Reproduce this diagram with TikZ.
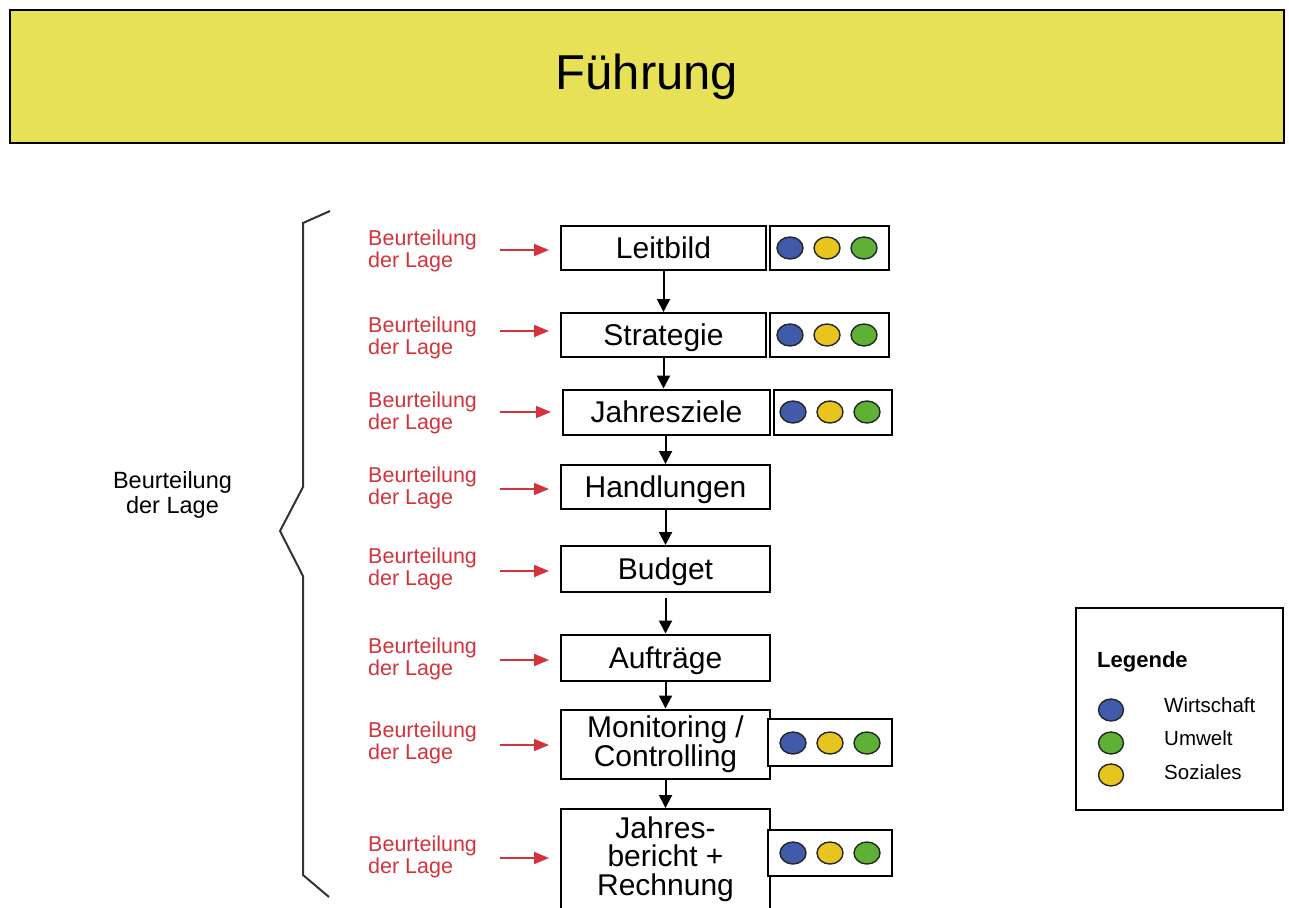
\documentclass[tikz,border=0pt]{standalone}
\usepackage{fontspec}
\setmainfont{Liberation Sans}
\usetikzlibrary{arrows.meta,shapes.geometric}

\definecolor{titleyellow}{HTML}{E6E156}
\definecolor{wblue}{HTML}{3F5BA9}
\definecolor{syellow}{HTML}{E8C41E}
\definecolor{ugreen}{HTML}{5DB135}
\definecolor{lagered}{HTML}{D4333B}

\tikzset{
  stepbox/.style={draw=black, line width=2pt, fill=white, inner sep=0pt,
    align=center, font=\fontsize{30}{29}\selectfont},
  oneline/.style={text height=21.5pt, text depth=0pt},
  dimbox/.style={draw=black, line width=2pt, fill=white, inner sep=0pt},
  dot/.style={ellipse, draw=black!85, line width=1.4pt, inner sep=0pt,
    minimum width=26pt, minimum height=22pt},
  flow/.style={line width=2pt, -{Triangle[length=13pt,width=13pt]}},
  lagearrow/.style={draw=lagered, line width=1.8pt,
    -{Triangle[length=15pt,width=12pt]}},
  lagelabel/.style={anchor=west, align=left, inner sep=0pt, text=lagered,
    font=\fontsize{21.5}{22}\selectfont},
  legtext/.style={anchor=west, inner sep=0pt, font=\fontsize{20.5}{22}\selectfont},
}

\begin{document}
\begin{tikzpicture}[x=1pt, y=-1pt]
\useasboundingbox (0,0) rectangle (1289,907);
\clip (0,0) rectangle (1289,907);

% title bar
\node[draw=black, line width=2pt, fill=titleyellow, minimum width=1274pt,
  minimum height=133pt, inner sep=0pt, font=\fontsize{49}{50}\selectfont]
  (title) at (647,76.5) {Führung};

% overall brace
\draw[line width=2pt, black!80] (330,211) -- (303,223) -- (303,487)
  -- (280,531) -- (303,576) -- (303,875) -- (329,897);
\node[align=center, inner sep=0pt, font=\fontsize{23.5}{25}\selectfont]
  (overall) at (172.5,495) {Beurteilung\\der Lage};

% process steps
\node[stepbox, oneline, minimum width=205pt, minimum height=44pt] (b1) at (663.5,248) {Leitbild};
\node[stepbox, oneline, minimum width=205pt, minimum height=44pt] (b2) at (663.5,335) {Strategie};
\node[stepbox, oneline, minimum width=207pt, minimum height=45pt] (b3) at (666.5,412) {Jahresziele};
\node[stepbox, oneline, minimum width=209pt, minimum height=44pt] (b4) at (665.5,487) {Handlungen};
\node[stepbox, oneline, minimum width=209pt, minimum height=46pt] (b5) at (665.5,569) {Budget};
\node[stepbox, oneline, minimum width=209pt, minimum height=46pt] (b6) at (665.5,657.5) {Aufträge};
\node[stepbox, minimum width=209pt, minimum height=69pt] (b7) at (665.5,744) {Monitoring /\\Controlling};
\node[dimbox, minimum width=209pt, minimum height=120pt, anchor=north] (b8) at (665.5,808) {};
\node[align=center, inner sep=0pt, font=\fontsize{30}{28.5}\selectfont]
  (b8text) at (665.5,859) {Jahres-\\bericht +\\Rechnung};

% dimension boxes
\node[dimbox, minimum width=119pt, minimum height=44pt] (d1) at (829.5,248) {};
\node[dimbox, minimum width=119pt, minimum height=44pt] (d2) at (829.5,335) {};
\node[dimbox, minimum width=118pt, minimum height=45pt] (d3) at (833,412) {};
\node[dimbox, minimum width=124pt, minimum height=47pt] (d7) at (830,742.5) {};
\node[dimbox, minimum width=124pt, minimum height=46pt] (d8) at (830,853) {};

% dimension dots
\foreach \n/\x/\y in {1/790/248, 2/790/335, 3/793/412, 7/793/743, 8/793/853} {
  \node[dot, fill=wblue]   (w\n) at (\x,\y) {};
  \node[dot, fill=syellow] (s\n) at (\x+37,\y) {};
  \node[dot, fill=ugreen]  (u\n) at (\x+74,\y) {};
}

% flow between steps
\draw[flow] (b1.south) -- (b2.north);
\draw[flow] (b2.south) -- (b3.north -| b2.south);
\draw[flow] (b3.south -| b4.north) -- (b4.north);
\draw[flow] (b4.south) -- (b5.north);
\draw[flow] ([yshift=-5pt]b5.south) -- (b6.north);
\draw[flow] (b6.south) -- (b7.north);
\draw[flow] (b7.south) -- (b8.north);

% situation assessment per step
\foreach \i/\y/\ay in {1/251/250, 2/337.5/331, 3/413/412, 4/488/489,
                      5/569/571, 6/659/660, 7/743/745, 8/857/858} {
  \node[lagelabel] (l\i) at (368,\y) {Beurteilung\\der Lage};
  \coordinate (a\i) at (500,\ay);
  \draw[lagearrow, shorten >=11pt] (a\i) -- (a\i -| b\i.west);
}

% legend
\node[draw=black, line width=2pt, minimum width=207pt, minimum height=202pt,
  inner sep=0pt] (legend) at (1179.5,709) {};
\node[anchor=west, inner sep=0pt, font=\bfseries\fontsize{22}{24}\selectfont]
  (legtitle) at (1097,662) {Legende};
\node[dot, fill=wblue, minimum width=25pt, minimum height=22pt] (lw) at (1111,710) {};
\node[dot, fill=ugreen, minimum width=25pt, minimum height=22pt] (lu) at (1111,743) {};
\node[dot, fill=syellow, minimum width=25pt, minimum height=22pt] (ls) at (1111,775) {};
\node[legtext] (tw) at (1164,705) {Wirtschaft};
\node[legtext] (tu) at (1164,738) {Umwelt};
\node[legtext] (ts) at (1164,772) {Soziales};
\end{tikzpicture}
\end{document}
